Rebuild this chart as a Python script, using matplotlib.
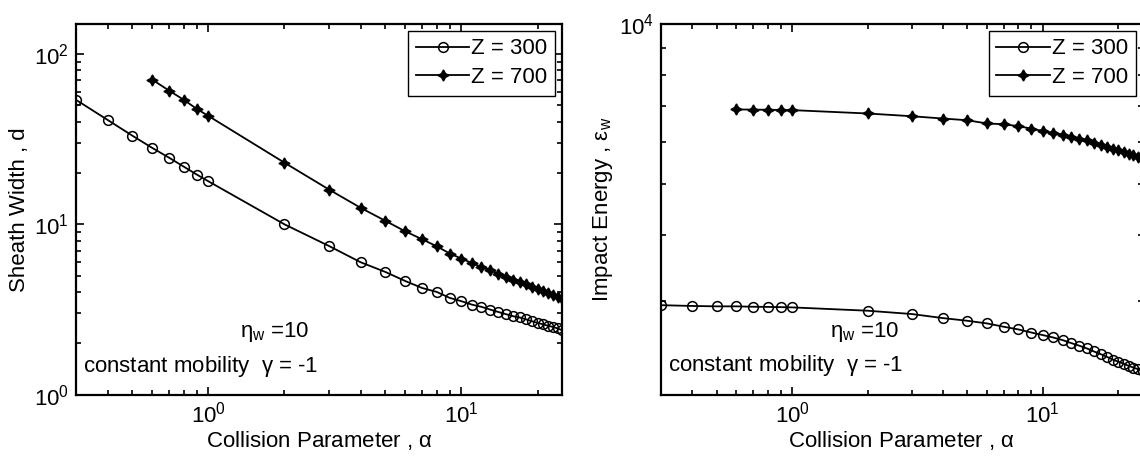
import numpy as np
import matplotlib
matplotlib.use('Agg')
import matplotlib.pyplot as plt
from matplotlib.ticker import NullFormatter

plt.rcParams['font.family'] = ['Liberation Sans', 'DejaVu Sans']
plt.rcParams['mathtext.fontset'] = 'custom'
plt.rcParams['mathtext.rm'] = 'Liberation Sans'
plt.rcParams['mathtext.it'] = 'Liberation Sans:italic'
plt.rcParams['mathtext.default'] = 'regular'

# collision parameter values
alpha_300 = [0.3, 0.4, 0.5, 0.6, 0.7, 0.8, 0.9, 1, 2, 3, 4, 5, 6, 7, 8, 9, 10,
             11, 12, 13, 14, 15, 16, 17, 18, 19, 20, 21, 22, 23, 24, 25]
alpha_700 = [0.6, 0.7, 0.8, 0.9, 1, 2, 3, 4, 5, 6, 7, 8, 9, 10,
             11, 12, 13, 14, 15, 16, 17, 18, 19, 20, 21, 22, 23, 24, 25]

# sheath width d
d_300 = [53.8, 41.0, 33.2, 28.1, 24.6, 21.8, 19.6, 17.9, 10.0, 7.46, 5.99, 5.26,
         4.65, 4.23, 4.01, 3.70, 3.54, 3.38, 3.28, 3.16, 3.06, 2.97, 2.89, 2.84,
         2.77, 2.70, 2.64, 2.59, 2.54, 2.50, 2.45, 2.39]
d_700 = [70.7, 60.9, 53.8, 47.6, 43.3, 23.0, 16.0, 12.5, 10.5, 9.10, 8.17, 7.43,
         6.74, 6.30, 5.93, 5.62, 5.38, 5.14, 4.91, 4.74, 4.59, 4.45, 4.29, 4.16,
         4.05, 3.93, 3.84, 3.75, 3.64]

# impact energy eps_w
e_300 = [2950, 2940, 2935, 2935, 2930, 2928, 2925, 2922, 2880, 2839, 2789, 2757,
         2725, 2686, 2655, 2620, 2591, 2564, 2535, 2502, 2474, 2445, 2413, 2386,
         2358, 2330, 2309, 2289, 2267, 2250, 2234, 2218]
e_700 = [6900, 6895, 6890, 6885, 6880, 6780, 6700, 6633, 6584, 6492, 6471, 6415,
         6350, 6285, 6230, 6187, 6123, 6081, 6036, 5976, 5924, 5862, 5821, 5778,
         5736, 5696, 5654, 5612, 5580]

fig = plt.figure(figsize=(11.4, 4.61), dpi=100)
ax1 = fig.add_axes([0.0667, 0.1438, 0.4263, 0.8042])
ax2 = fig.add_axes([0.5798, 0.1438, 0.4224, 0.8042])

star = (4, 1, 0)
fs = 16

def style(ax):
    ax.set_xscale('log')
    ax.set_yscale('log')
    ax.set_xlim(0.3, 25)
    for s in ax.spines.values():
        s.set_linewidth(1.6)
    ax.tick_params(which='both', direction='in', top=True, right=True,
                   labelsize=fs, width=1.2)
    ax.tick_params(which='major', length=6, pad=5)
    ax.tick_params(which='minor', length=3.5)
    ax.xaxis.set_minor_formatter(NullFormatter())
    ax.yaxis.set_minor_formatter(NullFormatter())
    ax.set_xlabel(r'Collision Parameter , $\alpha$', fontsize=fs, labelpad=1)

# left: sheath width
ax1.plot(alpha_300, d_300, 'k-', marker='o', mfc='none', ms=7, mew=1.1, lw=1.3,
         label='Z = 300')
ax1.plot(alpha_700, d_700, 'k-', marker=star, ms=8, mew=1.0, lw=1.3,
         label='Z = 700')
style(ax1)
ax1.set_ylim(1, 150)
ax1.set_ylabel('Sheath Width , d', fontsize=fs, labelpad=3)
ax1.text(0.337, 0.155, r'$\eta_w$ =10', transform=ax1.transAxes, fontsize=fs)
ax1.text(0.014, 0.06, r'constant mobility  $\gamma$ = -1', transform=ax1.transAxes,
         fontsize=fs)

# right: impact energy
ax2.plot(alpha_300, e_300, 'k-', marker='o', mfc='none', ms=7, mew=1.1, lw=1.3,
         label='Z = 300')
ax2.plot(alpha_700, e_700, 'k-', marker=star, ms=8, mew=1.0, lw=1.3,
         label='Z = 700')
style(ax2)
ax2.set_ylim(2000, 10000)
ax2.set_ylabel(r'Impact Energy , $\epsilon_w$', fontsize=fs, labelpad=3)
ax2.text(0.351, 0.155, r'$\eta_w$ =10', transform=ax2.transAxes, fontsize=fs)
ax2.text(0.015, 0.065, r'constant mobility  $\gamma$ = -1', transform=ax2.transAxes,
         fontsize=fs)

for ax in (ax1, ax2):
    leg = ax.legend(loc='upper right', fontsize=fs, fancybox=False, framealpha=1,
                    edgecolor='black', handlelength=2.4, handletextpad=0.1,
                    borderpad=0.35, labelspacing=0.35, borderaxespad=0.3)
    leg.get_frame().set_linewidth(1.0)

fig.savefig('out.png', dpi=100)
